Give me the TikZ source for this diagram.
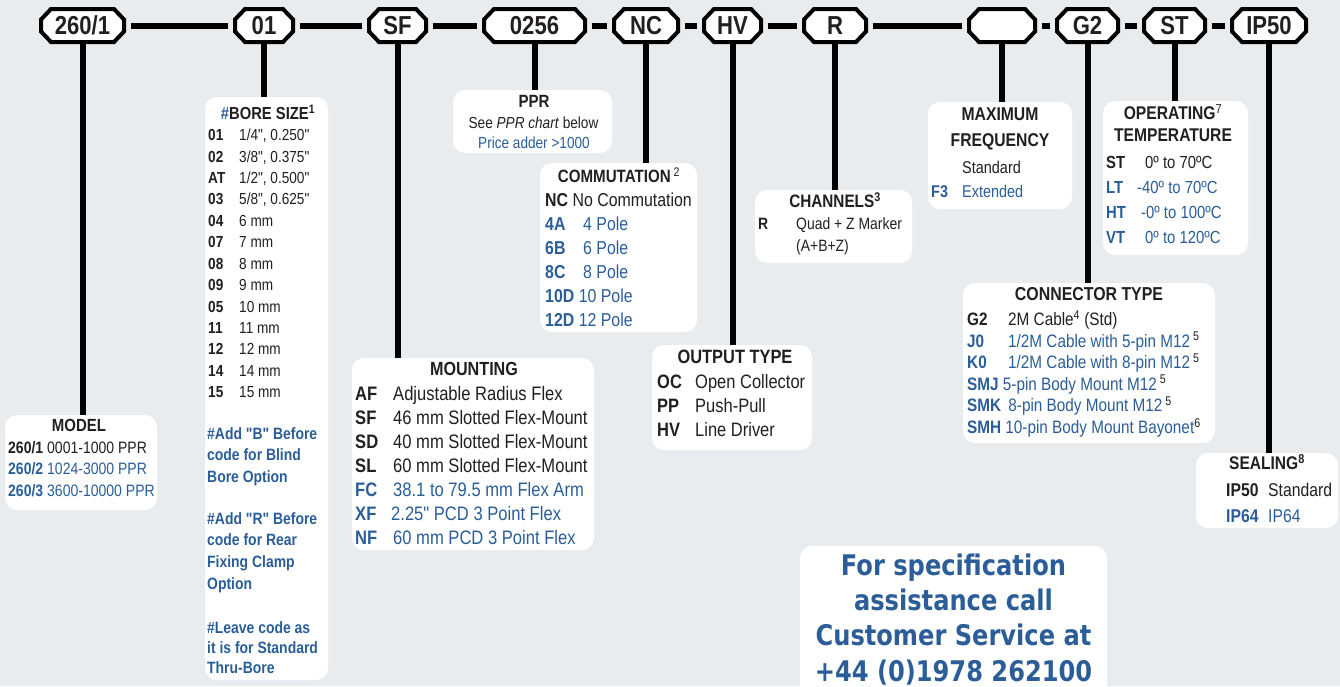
\documentclass[tikz,border=0pt]{standalone}
\usepackage{fontspec}
\setmainfont{Liberation Sans}[FakeStretch=0.85]
\newfontfamily\qfont{Liberation Sans}[FakeStretch=0.85]
\newfontfamily\callfont{DejaVu Sans}[FakeStretch=0.85]
\usetikzlibrary{calc}
\definecolor{bg}{HTML}{E8ECEE}
\definecolor{ink}{HTML}{231F20}
\definecolor{blu}{HTML}{2B5E98}
\newcommand\fsz[2]{\fontsize{#1pt}{#2pt}\selectfont}
\newcommand\tb[1]{\textbf{#1}}
\newcommand\bl[1]{\textcolor{blu}{#1}}
\newcommand\sps[1]{\textsuperscript{#1}}
\newcommand\dq{{\qfont"}}
% octagon: name, centre, half width, text
\newcommand\octo[4]{%
  \draw[octline] ($(#2)+(-#3+10,-16.5)$) -- ($(#2)+(#3-10,-16.5)$) -- ($(#2)+(#3,-6)$)
    -- ($(#2)+(#3,6)$) -- ($(#2)+(#3-10,16.5)$) -- ($(#2)+(-#3+10,16.5)$)
    -- ($(#2)+(-#3,6)$) -- ($(#2)+(-#3,-6)$) -- cycle;
  \node[octtext, minimum width=2*#3] (#1) at (#2) {#4};}
\begin{document}
\begin{tikzpicture}[x=1pt,y=-1pt,
  octline/.style={draw=black, line width=4pt, fill=white, line join=miter},
  octtext/.style={rectangle, draw=none, inner sep=0pt, minimum height=33pt,
    font=\fsz{26}{30}\bfseries, text=ink},
  panel/.style={rectangle, rounded corners=12pt, fill=white, draw=none, inner sep=0pt},
  link/.style={line width=6pt, black, shorten <=7pt, shorten >=6.5pt},
  stem/.style={line width=6pt, black},
  txt/.style={inner sep=0pt, anchor=base west, text=ink},
  head/.style={inner sep=0pt, anchor=base, text=ink, font=\bfseries}]
\useasboundingbox (0,0) rectangle (1340,686);
\fill[bg] (0,0) rectangle (1340,686);
\clip (0,0) rectangle (1340,686);

% code octagons
\octo{m1}{82.5,25.5}{41.5}{260/1}
\octo{m2}{264,25.5}{29}{01}
\octo{m3}{397.5,25.5}{28.5}{SF}
\octo{m4}{534.5,25.5}{50.5}{0256}
\octo{m5}{646,25.5}{32}{NC}
\octo{m6}{732.5,25.5}{28.5}{HV}
\octo{m7}{835,25.5}{31}{R}
\octo{m8}{1002,25.5}{33}{}
\octo{m9}{1087.5,25.5}{30.5}{G2}
\octo{m10}{1174.5,25.5}{30.5}{ST}
\octo{m11}{1269,25.5}{37}{IP50}

% panels
\node[panel, minimum width=152pt, minimum height=95pt] (model) at (81,462.5) {};
\node[panel, minimum width=123pt, minimum height=583pt] (bore) at (266.5,388.5) {};
\node[panel, minimum width=159pt, minimum height=63pt] (ppr) at (532.5,121.5) {};
\node[panel, minimum width=157pt, minimum height=169pt] (comm) at (618.5,247.5) {};
\node[panel, minimum width=242pt, minimum height=192pt] (mount) at (473,454) {};
\node[panel, minimum width=160pt, minimum height=105pt] (outp) at (732,397.5) {};
\node[panel, minimum width=157pt, minimum height=73pt] (chan) at (833.5,226.5) {};
\node[panel, minimum width=144pt, minimum height=107pt] (freq) at (1000,155.5) {};
\node[panel, minimum width=145pt, minimum height=154pt] (temp) at (1175.5,178) {};
\node[panel, minimum width=252pt, minimum height=160pt] (conn) at (1089,363) {};
\node[panel, minimum width=142pt, minimum height=75pt] (seal) at (1267,490.5) {};
\node[panel, minimum width=307pt, minimum height=150pt] (call) at (953.5,621) {};

% links along the code
\draw[link] (m1.east) -- (m2.west);
\draw[link] (m2.east) -- (m3.west);
\draw[link] (m3.east) -- (m4.west);
\draw[link] (m4.east) -- (m5.west);
\draw[link] (m5.east) -- (m6.west);
\draw[link] (m6.east) -- (m7.west);
\draw[link] (m7.east) -- (m8.west);
\draw[link] (m8.east) -- (m9.west);
\draw[link] (m9.east) -- (m10.west);
\draw[link] (m10.east) -- (m11.west);

% stems
\draw[stem] (m1.south) -- (m1.south |- model.north);
\draw[stem] (m2.south) -- (m2.south |- bore.north);
\draw[stem] (m3.south) -- (m3.south |- mount.north);
\draw[stem] (m4.south) -- (m4.south |- ppr.north);
\draw[stem] (m5.south) -- (m5.south |- comm.north);
\draw[stem] (m6.south) -- (m6.south |- outp.north);
\draw[stem] (m7.south) -- (m7.south |- chan.north);
\draw[stem] (m8.south) -- (m8.south |- freq.north);
\draw[stem] (m9.south) -- (m9.south |- conn.north);
\draw[stem] (m10.south) -- (m10.south |- temp.north);
\draw[stem] (m11.south) -- (m11.south |- seal.north);

% MODEL
\node[head, font=\fsz{17.6}{20}\bfseries] (modelh) at (79,431.3) {MODEL};
\node[txt] (modelr) at (8,453) {\fsz{16.5}{21.5}\begin{tabular}[t]{@{}l@{}}
\tb{260/1} 0001-1000 PPR\\
\bl{\tb{260/2} 1024-3000 PPR}\\
\bl{\tb{260/3} 3600-10000 PPR}
\end{tabular}};

% BORE SIZE
\node[head, font=\fsz{17.4}{20}\bfseries] (boreh) at (268,119.4) {\bl{\#}BORE SIZE\sps{1}};
\node[txt] (borer) at (208,140.7) {\fsz{16}{21.42}\begin{tabular}[t]{@{}p{31pt}@{}l@{}}
\tb{01} & 1/4\dq, 0.250\dq\\
\tb{02} & 3/8\dq, 0.375\dq\\
\tb{AT} & 1/2\dq, 0.500\dq\\
\tb{03} & 5/8\dq, 0.625\dq\\
\tb{04} & 6 mm\\
\tb{07} & 7 mm\\
\tb{08} & 8 mm\\
\tb{09} & 9 mm\\
\tb{05} & 10 mm\\
\tb{11} & 11 mm\\
\tb{12} & 12 mm\\
\tb{14} & 14 mm\\
\tb{15} & 15 mm
\end{tabular}};
\node[txt, text=blu] (noteb) at (207,439) {\fsz{16.4}{21.7}\bfseries\begin{tabular}[t]{@{}l@{}}
\#Add \dq B\dq{} Before\\ code for Blind\\ Bore Option\end{tabular}};
\node[txt, text=blu] (noter) at (207,524) {\fsz{16.4}{21.7}\bfseries\begin{tabular}[t]{@{}l@{}}
\#Add \dq R\dq{} Before\\ code for Rear\\ Fixing Clamp\\ Option\end{tabular}};
\node[txt, text=blu] (notel) at (207,633) {\fsz{16.4}{20.2}\bfseries\begin{tabular}[t]{@{}l@{}}
\#Leave code as\\ it is for Standard\\ Thru-Bore\end{tabular}};

% PPR
\node[head, font=\fsz{17.7}{20}\bfseries] (pprh) at (534,107.3) {PPR};
\node[head, font=\fsz{16}{20}] (ppr1) at (533.5,128.7) {See \textit{PPR chart} below};
\node[head, font=\fsz{16}{20}, text=blu] (ppr2) at (534,148.7) {Price adder >1000};

% COMMUTATION
\node[head, font=\fsz{17.8}{20}\bfseries] (commh) at (619,182.4) {COMMUTATION\,\textmd{\sps{2}}};
\node[txt] (commr) at (545,206.7) {\fsz{18.7}{24}\begin{tabular}[t]{@{}l@{}}
\tb{NC} No Commutation\\
\bl{\makebox[38pt][l]{\tb{4A}}4 Pole}\\
\bl{\makebox[38pt][l]{\tb{6B}}6 Pole}\\
\bl{\makebox[38pt][l]{\tb{8C}}8 Pole}\\
\bl{\tb{10D} 10 Pole}\\
\bl{\tb{12D} 12 Pole}
\end{tabular}};

% MOUNTING
\node[head, font=\fsz{19}{22}\bfseries] (mounth) at (474,375.8) {MOUNTING};
\node[txt] (mountr) at (355,400) {\fsz{19.5}{24}\begin{tabular}[t]{@{}p{38pt}@{}l@{}}
\tb{AF} & Adjustable Radius Flex\\
\tb{SF} & 46 mm Slotted Flex-Mount\\
\tb{SD} & 40 mm Slotted Flex-Mount\\
\tb{SL} & 60 mm Slotted Flex-Mount\\
\bl{\tb{FC}} & \bl{38.1 to 79.5 mm Flex Arm}\\
\bl{\tb{XF}} & \bl{\hspace{-2pt}2.25\dq{} PCD 3 Point Flex}\\
\bl{\tb{NF}} & \bl{60 mm PCD 3 Point Flex}
\end{tabular}};

% OUTPUT TYPE
\node[head, font=\fsz{19.3}{22}\bfseries] (outh) at (735,363) {OUTPUT TYPE};
\node[txt] (outr) at (657,388) {\fsz{19.4}{24}\begin{tabular}[t]{@{}p{38pt}@{}l@{}}
\tb{OC} & Open Collector\\
\tb{PP} & Push-Pull\\
\tb{HV} & Line Driver
\end{tabular}};

% CHANNELS
\node[head, font=\fsz{18}{21}\bfseries] (chanh) at (835,207.5) {CHANNELS\sps{3}};
\node[txt] (chanr) at (758,229) {\fsz{16.4}{22}\begin{tabular}[t]{@{}p{38pt}@{}l@{}}
\tb{R} & Quad + Z Marker\\
 & (A+B+Z)
\end{tabular}};

% MAXIMUM FREQUENCY
\node[head, font=\fsz{18.5}{26}\bfseries] (freqh) at (1000,120.6) {\begin{tabular}[t]{@{}c@{}}MAXIMUM\\FREQUENCY\end{tabular}};
\node[txt] (freqr) at (931,173) {\fsz{17}{24}\begin{tabular}[t]{@{}p{31pt}@{}l@{}}
 & Standard\\
\bl{\tb{F3}} & \bl{Extended}
\end{tabular}};

% OPERATING TEMPERATURE
\node[head, font=\fsz{18.4}{22}\bfseries] (temph) at (1173,119.6) {\begin{tabular}[t]{@{}c@{}}OPERATING\textmd{\sps{7}}\\TEMPERATURE\end{tabular}};
\node[txt] (tempr) at (1106,168.3) {\fsz{17.5}{25}\begin{tabular}[t]{@{}l@{}}
\makebox[39pt][l]{\tb{ST}}0º to 70ºC\\
\bl{\makebox[31pt][l]{\tb{LT}}-40º to 70ºC}\\
\bl{\makebox[35pt][l]{\tb{HT}}-0º to 100ºC}\\
\bl{\makebox[39pt][l]{\tb{VT}}0º to 120ºC}
\end{tabular}};

% CONNECTOR TYPE
\node[head, font=\fsz{18.7}{22}\bfseries] (connh) at (1089,300.7) {CONNECTOR TYPE};
\node[txt] (connr) at (967,325.4) {\fsz{18}{21.6}\begin{tabular}[t]{@{}l@{}}
\makebox[41pt][l]{\tb{G2}}2M Cable\sps{4} (Std)\\
\bl{\makebox[41pt][l]{\tb{J0}}1/2M Cable with 5-pin M12}\,\sps{5}\\
\bl{\makebox[41pt][l]{\tb{K0}}1/2M Cable with 8-pin M12}\,\sps{5}\\
\bl{\tb{SMJ} 5-pin Body Mount M12}\,\sps{5}\\
\bl{\tb{SMK} \,8-pin Body Mount M12}\,\sps{5}\\
\bl{\tb{SMH} 10-pin Body Mount Bayonet}\sps{6}
\end{tabular}};

% SEALING
\node[head, font=\fsz{18.3}{22}\bfseries] (sealh) at (1267,469.5) {SEALING\sps{8}};
\node[txt] (sealr) at (1226,496.6) {\fsz{18.5}{26}\begin{tabular}[t]{@{}p{42pt}@{}l@{}}
\tb{IP50} & Standard\\
\bl{\tb{IP64}} & \bl{IP64}
\end{tabular}};

% call box text
\node[head, text=blu, font=\callfont\bfseries\fsz{28.4}{35.2}] (calltxt) at (953.5,575.4) {\begin{tabular}[t]{@{}c@{}}For specification\\assistance call\\Customer Service at\\+44 (0)1978 262100\end{tabular}};
\end{tikzpicture}
\end{document}
